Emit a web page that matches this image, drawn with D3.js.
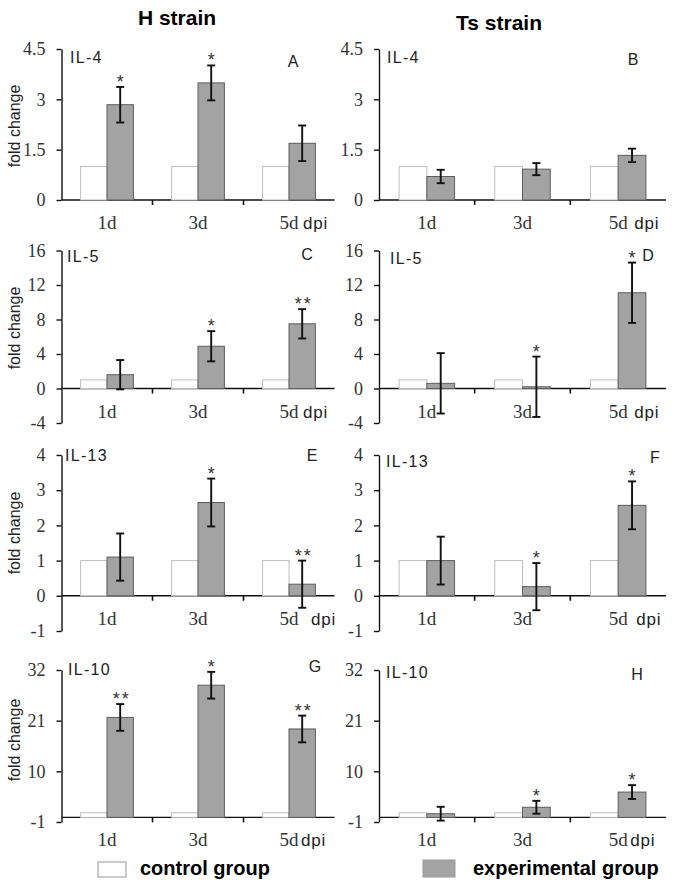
<!DOCTYPE html>
<html>
<head>
<meta charset="utf-8">
<script src="https://cdn.jsdelivr.net/npm/d3@7"></script>
<style>
body { margin: 0; background: #fff; }
svg { display: block; }
</style>
</head>
<body>
<svg class="chart"></svg>
<script>
// data
var days = ["1d", "3d", "5d"];
var strains = ["H strain", "Ts strain"];
var panelIds = ["A", "B", "C", "D", "E", "F", "G", "H"];
var cytokines = ["IL-4", "IL-4", "IL-5", "IL-5", "IL-13", "IL-13", "IL-10", "IL-10"];
var controlValues = [1, 1, 1];
var expMeans = [
    [2.84, 3.49, 1.69],
    [0.70, 0.92, 1.33],
    [1.6, 4.9, 7.5],
    [0.6, 0.2, 11.1],
    [1.1, 2.65, 0.33],
    [1.0, 0.26, 2.57],
    [21.7, 28.7, 19.2],
    [0.8, 2.2, 5.5]
];
var expErrors = [
    [0.53, 0.52, 0.53],
    [0.20, 0.18, 0.20],
    [1.7, 1.75, 1.7],
    [3.5, 3.5, 3.5],
    [0.67, 0.68, 0.67],
    [0.68, 0.67, 0.68],
    [2.9, 2.9, 2.9],
    [1.5, 1.4, 1.5]
];
var stars = [
    ["*", "*", ""],
    ["", "", ""],
    ["", "*", "**"],
    ["", "*", "*"],
    ["", "*", "**"],
    ["", "*", "*"],
    ["**", "*", "**"],
    ["", "*", "*"]
];
var yDomains = [[0, 4.5], [-4, 16], [-1, 4], [-1, 32]];
var yTicks = [[0, 1.5, 3, 4.5], [-4, 0, 4, 8, 12, 16], [-1, 0, 1, 2, 3, 4], [-1, 10, 21, 32]];
var legendLabels = ["control group", "experimental group"];

// layout
var columns = [{x: 61.5, width: 273}, {x: 379, width: 287}];
var rows = [
    {top: 49, bottom: 200, foldY: 126},
    {top: 250.5, bottom: 423, foldY: 328},
    {top: 455, bottom: 631, foldY: 533},
    {top: 670, bottom: 822, foldY: 740}
];
var labelSpots = [
    {nameX: 70, nameY: 63, letterX: 293, letterY: 67},
    {nameX: 387, nameY: 63, letterX: 633, letterY: 65},
    {nameX: 67, nameY: 262, letterX: 307, letterY: 260},
    {nameX: 390, nameY: 264, letterX: 648, letterY: 261},
    {nameX: 65, nameY: 461, letterX: 312, letterY: 461},
    {nameX: 386, nameY: 467, letterX: 655, letterY: 463},
    {nameX: 68, nameY: 675, letterX: 315, letterY: 672},
    {nameX: 386, nameY: 678, letterX: 637, letterY: 680}
];
var dpiShift = [0, 2, 0, 2, 8, 4, -2, -2];
var sansFont = "'Liberation Sans', Arial, sans-serif";
var serifFont = "'Liberation Serif', 'Times New Roman', 'DejaVu Serif', serif";
var expFill = "#a3a3a3";
var expStroke = "#5e5e5e";
var controlStroke = "#bdbdbd";

var svg = d3.select(".chart")
        .attr("width", 685)
        .attr("height", 888);

initHeaders();
for (var i = 0; i < panelIds.length; i++) {
    drawPanel(i);
}
initLegend();

function initHeaders() {
    svg.append("text")
            .attr("x", 177).attr("y", 25)
            .attr("text-anchor", "middle")
            .style("font-family", sansFont)
            .style("font-size", "21px").style("font-weight", "bold")
            .text(strains[0]);
    svg.append("text")
            .attr("x", 499).attr("y", 30)
            .attr("text-anchor", "middle")
            .style("font-family", sansFont)
            .style("font-size", "21px").style("font-weight", "bold")
            .text(strains[1]);
}

function drawPanel(p) {
    var col = columns[p % 2];
    var r = Math.floor(p / 2);
    var row = rows[r];
    var spot = labelSpots[p];

    var xRange = d3.scaleBand()
            .domain(days)
            .range([col.x, col.x + col.width]);
    var yRange = d3.scaleLinear()
            .domain(yDomains[r])
            .range([row.bottom, row.top]);
    var barWidth = xRange.bandwidth() * 0.29;
    var zeroY = yRange(0);

    var panel = svg.append("g").attr("class", "panel");

    // y axis
    var yAxis = panel.append("g")
            .attr("transform", "translate(" + col.x + ",0)")
            .call(d3.axisLeft(yRange)
                    .tickValues(yTicks[r])
                    .tickSize(5)
                    .tickSizeOuter(0)
                    .tickPadding(11)
                    .tickFormat(function (d) { return String(d); }));
    yAxis.selectAll("path, line").attr("stroke", "#111").attr("stroke-width", 1.4);
    yAxis.selectAll("text")
            .style("font-family", serifFont)
            .style("font-size", "18px")
            .attr("fill", "#333");

    // x axis at zero
    var xAxis = panel.append("g").attr("class", "x axis");
    xAxis.append("line")
            .attr("x1", col.x).attr("x2", col.x + col.width)
            .attr("y1", zeroY).attr("y2", zeroY)
            .attr("stroke", "#111").attr("stroke-width", 1.4);
    xAxis.selectAll(".xtick")
            .data(days.slice(1))
            .enter().append("line")
            .attr("class", "xtick")
            .attr("x1", function (d) { return xRange(d); })
            .attr("x2", function (d) { return xRange(d); })
            .attr("y1", zeroY).attr("y2", zeroY + 5)
            .attr("stroke", "#111").attr("stroke-width", 1.6);

    // control bars
    panel.selectAll(".controlBar")
            .data(controlValues)
            .enter().append("rect")
            .attr("class", "controlBar")
            .attr("x", function (d, k) { return xRange(days[k]) + xRange.bandwidth() / 2 - barWidth; })
            .attr("width", barWidth)
            .attr("y", function (d) { return yRange(d); })
            .attr("height", function (d) { return zeroY - yRange(d); })
            .attr("fill", "#fff")
            .attr("stroke", controlStroke)
            .attr("stroke-width", 1);

    // experimental bars
    var expData = expMeans[p].map(function (m, k) {
        return {day: days[k], mean: m, err: expErrors[p][k], star: stars[p][k]};
    });
    var cx = function (d) { return xRange(d.day) + xRange.bandwidth() / 2 + barWidth / 2; };

    panel.selectAll(".expBar")
            .data(expData)
            .enter().append("rect")
            .attr("class", "expBar")
            .attr("x", function (d) { return xRange(d.day) + xRange.bandwidth() / 2; })
            .attr("width", barWidth)
            .attr("y", function (d) { return yRange(d.mean); })
            .attr("height", function (d) { return zeroY - yRange(d.mean); })
            .attr("fill", expFill)
            .attr("stroke", expStroke)
            .attr("stroke-width", 1);

    // error bars
    var errG = panel.selectAll(".errBar")
            .data(expData)
            .enter().append("g")
            .attr("class", "errBar")
            .attr("stroke", "#111")
            .attr("stroke-width", 1.9);
    errG.append("line")
            .attr("x1", cx).attr("x2", cx)
            .attr("y1", function (d) { return yRange(d.mean + d.err); })
            .attr("y2", function (d) { return yRange(d.mean - d.err); });
    errG.append("line")
            .attr("x1", function (d) { return cx(d) - 4; })
            .attr("x2", function (d) { return cx(d) + 4; })
            .attr("y1", function (d) { return yRange(d.mean + d.err); })
            .attr("y2", function (d) { return yRange(d.mean + d.err); });
    errG.append("line")
            .attr("x1", function (d) { return cx(d) - 4; })
            .attr("x2", function (d) { return cx(d) + 4; })
            .attr("y1", function (d) { return yRange(d.mean - d.err); })
            .attr("y2", function (d) { return yRange(d.mean - d.err); });

    // significance stars
    panel.selectAll(".star")
            .data(expData.filter(function (d) { return d.star !== ""; }))
            .enter().append("text")
            .attr("class", "star")
            .attr("x", function (d) { return cx(d) + (d.star.length > 1 ? 1.5 : 0); })
            .attr("y", function (d) { return yRange(d.mean + d.err) + 1; })
            .attr("text-anchor", "middle")
            .style("font-family", sansFont)
            .style("font-size", "18px")
            .style("letter-spacing", function (d) { return d.star.length > 1 ? "2px" : "0px"; })
            .attr("fill", "#333")
            .text(function (d) { return d.star; });

    // category labels
    var labelY = zeroY + 29;
    panel.selectAll(".dayLabel")
            .data(days)
            .enter().append("text")
            .attr("class", "dayLabel")
            .attr("x", function (d) { return xRange(d) + xRange.bandwidth() / 2; })
            .attr("y", labelY)
            .attr("text-anchor", "middle")
            .style("font-family", serifFont)
            .style("font-size", "19px")
            .attr("fill", "#333")
            .text(function (d) { return d; });
    panel.append("text")
            .attr("x", xRange(days[2]) + xRange.bandwidth() / 2 + 14 + dpiShift[p])
            .attr("y", labelY)
            .style("font-family", sansFont)
            .style("font-size", "17px")
            .style("letter-spacing", "0.8px")
            .attr("fill", "#222")
            .text("dpi");

    // panel texts
    panel.append("text")
            .attr("x", spot.nameX).attr("y", spot.nameY)
            .style("font-family", sansFont)
            .style("font-size", "16px")
            .style("letter-spacing", "1.3px")
            .attr("fill", "#222")
            .text(cytokines[p]);
    panel.append("text")
            .attr("x", spot.letterX).attr("y", spot.letterY)
            .attr("text-anchor", "middle")
            .style("font-family", sansFont)
            .style("font-size", "16px")
            .attr("fill", "#222")
            .text(panelIds[p]);

    if (p % 2 === 0) {
        panel.append("text")
                .attr("transform", "translate(20," + row.foldY + ") rotate(-90)")
                .attr("text-anchor", "middle")
                .style("font-family", sansFont)
                .style("font-size", "16px")
                .attr("fill", "#222")
                .text("fold change");
    }
}

function initLegend() {
    svg.append("rect")
            .attr("x", 98).attr("y", 862)
            .attr("width", 28).attr("height", 15)
            .attr("fill", "#fff")
            .attr("stroke", "#aaa").attr("stroke-width", 1.2);
    svg.append("text")
            .attr("x", 140).attr("y", 875)
            .style("font-family", sansFont)
            .style("font-size", "20px").style("font-weight", "bold")
            .text(legendLabels[0]);
    svg.append("rect")
            .attr("x", 423).attr("y", 860)
            .attr("width", 32).attr("height", 17)
            .attr("fill", expFill)
            .attr("stroke", "#999").attr("stroke-width", 1);
    svg.append("text")
            .attr("x", 473).attr("y", 875)
            .style("font-family", sansFont)
            .style("font-size", "20px").style("font-weight", "bold")
            .text(legendLabels[1]);
}
</script>
</body>
</html>
